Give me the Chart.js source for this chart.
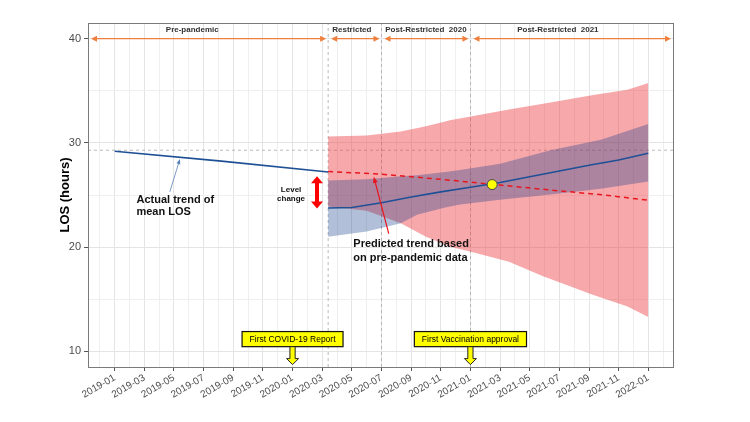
<!DOCTYPE html>
<html>
<head>
<meta charset="utf-8">
<script src="https://cdn.jsdelivr.net/npm/chart.js@4.4.1/dist/chart.umd.min.js"></script>
<style>
  html, body { margin: 0; padding: 0; background: #fff; }
  #wrap { width: 750px; height: 422px; }
</style>
</head>
<body>
<div id="wrap"><canvas id="losChart" width="750" height="422"></canvas></div>
<script>
// months since 2019-01-01 (day part as fraction of a month)
function toMonth(s) {
    const p = s.split('-').map(Number);
    return (p[0] - 2019) * 12 + (p[1] - 1) + ((p[2] || 1) - 1) / 30;
}

// ---- data ----
const preDates = ['2019-01', '2019-08-07', '2020-03-13'];
const preLOS = [29.2, 28.25, 27.2];

const postDates = ['2020-03-13', '2020-05', '2020-07', '2020-09', '2020-11', '2021-01',
                   '2021-03', '2021-05', '2021-07', '2021-09', '2021-11', '2022-01'];
const postLOS = [23.75, 23.8, 24.25, 24.8, 25.3, 25.75, 26.2, 26.75, 27.3, 27.85, 28.35, 29.0];

const predDates = ['2020-03-13', '2020-07', '2020-11', '2021-03', '2021-07', '2021-10', '2022-01'];
const predLOS = [27.25, 27.0, 26.5, 25.95, 25.4, 25.0, 24.5];

const blueDates = ['2020-03-13', '2020-06', '2020-08-10', '2020-09-13', '2020-11-10', '2020-12-10',
                   '2021-03', '2021-06-13', '2021-09-25', '2022-01'];
const blueUpper = [26.4, 26.5, 26.8, 26.9, 27.2, 27.4, 28.0, 29.3, 30.3, 31.8];
const blueLower = [21.0, 21.5, 22.3, 23.1, 23.8, 24.1, 24.55, 25.05, 25.6, 26.3];

const redDates = ['2020-03-13', '2020-06', '2020-08-10', '2020-10', '2020-11-22', '2021-01-10',
                  '2021-03-19', '2021-05-28', '2021-09-10', '2021-11-19', '2022-01'];
const redUpper = [30.6, 30.7, 31.1, 31.6, 32.2, 32.6, 33.2, 33.75, 34.6, 35.1, 35.75];
const redLower = [23.9, 23.5, 22.3, 21.0, 20.0, 19.45, 18.6, 17.2, 15.4, 14.3, 13.3];

const crossDate = ['2021-02-15'];
const crossLOS = [26.0];

const refLOS = 29.3;
const phaseBreaks = ['2020-03-13', '2020-07', '2021-01'];
const phaseNames = ['Pre-pandemic', 'Restricted', 'Post-Restricted  2020', 'Post-Restricted  2021'];
const phaseLabelAt = ['2019-06-08', '2020-05', '2020-10', '2021-06-28'];

const eventNames = ['First COVID-19 Report', 'First Vaccination approval'];
const eventDates = ['2020-01', '2021-01'];

const xTickLabels = ['2019-01', '2019-03', '2019-05', '2019-07', '2019-09', '2019-11',
                     '2020-01', '2020-03', '2020-05', '2020-07', '2020-09', '2020-11',
                     '2021-01', '2021-03', '2021-05', '2021-07', '2021-09', '2021-11', '2022-01'];
const yTickLabels = [10, 20, 30, 40];
const yMinorTicks = [15, 25, 35];

const xMin = toMonth('2018-11-07');
const xMax = toMonth('2022-02-21');
const yMin = 8.5, yMax = 41.5;

const xMajor = xTickLabels.map(toMonth);
const xGrid = [];
for (let m = -1; m <= 37; m++) xGrid.push(m);

const pts = (dates, vals) => dates.map((d, i) => ({ x: toMonth(d), y: vals[i] }));
const vline = d => [{ x: toMonth(d), y: yMin }, { x: toMonth(d), y: yMax }];

const FONT = "'Liberation Sans', Arial, sans-serif";
Chart.defaults.font.family = FONT;

function head(ctx, x, y, ang, len, half) {
    ctx.save();
    ctx.translate(x, y);
    ctx.rotate(ang);
    ctx.beginPath();
    ctx.moveTo(0, 0);
    ctx.lineTo(-len, -half);
    ctx.lineTo(-len, half);
    ctx.closePath();
    ctx.fill();
    ctx.restore();
}

function arrow(ctx, x1, y1, x2, y2, color, lw, len, half, both) {
    const ang = Math.atan2(y2 - y1, x2 - x1);
    ctx.save();
    ctx.strokeStyle = color;
    ctx.fillStyle = color;
    ctx.lineWidth = lw;
    ctx.beginPath();
    ctx.moveTo(x1 + (both ? Math.cos(ang) * len * 0.8 : 0), y1 + (both ? Math.sin(ang) * len * 0.8 : 0));
    ctx.lineTo(x2 - Math.cos(ang) * len * 0.8, y2 - Math.sin(ang) * len * 0.8);
    ctx.stroke();
    head(ctx, x2, y2, ang, len, half);
    if (both) head(ctx, x1, y1, ang + Math.PI, len, half);
    ctx.restore();
}

// annotations, period arrows and panel border
const annotations = {
    id: 'annotations',
    afterDatasetsDraw(chart) {
        const ctx = chart.ctx;
        const xs = chart.scales.x, ys = chart.scales.y;
        const px = m => xs.getPixelForValue(m);
        const py = v => ys.getPixelForValue(v);
        const area = chart.chartArea;

        // period arrows along the top
        const edges = [xMin].concat(phaseBreaks.map(toMonth), [xMax]);
        for (let i = 0; i < edges.length - 1; i++) {
            arrow(ctx, px(edges[i]) + 3, py(40), px(edges[i + 1]) - 2, py(40), '#ee7f3c', 1.4, 6, 3, true);
        }
        ctx.save();
        ctx.fillStyle = '#333';
        ctx.font = 'bold 8px ' + FONT;
        ctx.textAlign = 'center';
        ctx.textBaseline = 'middle';
        phaseNames.forEach((n, i) => ctx.fillText(n, px(toMonth(phaseLabelAt[i])), py(40.85)));
        ctx.restore();

        // level change
        arrow(ctx, px(13.65), py(26.8), px(13.65), py(23.7), '#ff0000', 4, 7, 6, true);
        ctx.save();
        ctx.fillStyle = '#111';
        ctx.font = 'bold 8px ' + FONT;
        ctx.textAlign = 'center';
        ctx.textBaseline = 'middle';
        ctx.fillText('Level', px(11.9), py(25.5));
        ctx.fillText('change', px(11.9), py(24.6));

        // text callouts
        ctx.font = 'bold 11px ' + FONT;
        ctx.textAlign = 'left';
        ctx.fillText('Actual trend of', px(1.47), py(24.5));
        ctx.fillText('mean LOS', px(1.47), py(23.35));
        ctx.fillText('Predicted trend based', px(16.1), py(20.3));
        ctx.fillText('on pre-pandemic data', px(16.1), py(18.95));
        ctx.restore();
        arrow(ctx, px(3.72), py(25.3), px(4.4), py(28.45), '#5b82b8', 0.8, 5, 2, false);
        arrow(ctx, px(18.49), py(21.3), px(17.48), py(26.75), '#e8141c', 1.2, 6, 2.5, false);

        // event boxes with yellow block arrows
        eventNames.forEach((n, i) => {
            const cx = px(toMonth(eventDates[i]));
            const top = py(11.9), bot = py(10.45), tip = py(8.73);
            ctx.save();
            ctx.font = '8.5px ' + FONT;
            const w = ctx.measureText(n).width + 15;
            ctx.fillStyle = '#ffff00';
            ctx.strokeStyle = '#111';
            ctx.lineWidth = 1.2;
            ctx.fillRect(cx - w / 2, top, w, bot - top);
            ctx.strokeRect(cx - w / 2, top, w, bot - top);
            ctx.fillStyle = '#000';
            ctx.textAlign = 'center';
            ctx.textBaseline = 'middle';
            ctx.fillText(n, cx, (top + bot) / 2 + 0.5);
            // block arrow
            const sh = 2.6, hh = 6, hl = 6;
            ctx.beginPath();
            ctx.moveTo(cx - sh, bot);
            ctx.lineTo(cx + sh, bot);
            ctx.lineTo(cx + sh, tip - hl);
            ctx.lineTo(cx + hh, tip - hl);
            ctx.lineTo(cx, tip);
            ctx.lineTo(cx - hh, tip - hl);
            ctx.lineTo(cx - sh, tip - hl);
            ctx.closePath();
            ctx.fillStyle = '#ffff00';
            ctx.fill();
            ctx.lineWidth = 1;
            ctx.strokeStyle = '#222';
            ctx.stroke();
            ctx.restore();
        });

        // panel border
        ctx.save();
        ctx.strokeStyle = '#7a7a7a';
        ctx.lineWidth = 1;
        ctx.strokeRect(Math.round(area.left) + 0.5, Math.round(area.top) + 0.5,
            Math.round(area.right - area.left), Math.round(area.bottom - area.top));
        ctx.restore();
    }
};

const ctx = document.getElementById('losChart').getContext('2d');
new Chart(ctx, {
    type: 'line',
    data: {
        datasets: [
            {
                label: 'Crossing',
                data: pts(crossDate, crossLOS),
                showLine: false,
                pointRadius: 5,
                pointBackgroundColor: '#ffff00',
                pointBorderColor: '#444',
                pointBorderWidth: 1
            },
            {
                label: 'Actual pre',
                data: pts(preDates, preLOS),
                borderColor: '#1f5096',
                borderWidth: 1.6,
                pointRadius: 0,
                fill: false
            },
            {
                label: 'Actual post',
                data: pts(postDates, postLOS),
                borderColor: '#1f5096',
                borderWidth: 1.6,
                pointRadius: 0,
                fill: false
            },
            {
                label: 'Predicted',
                data: pts(predDates, predLOS),
                borderColor: '#e8171f',
                borderWidth: 1.5,
                borderDash: [5, 4],
                pointRadius: 0,
                fill: false
            },
            {
                label: 'Actual CI upper',
                data: pts(blueDates, blueUpper),
                borderWidth: 0,
                pointRadius: 0,
                fill: false
            },
            {
                label: 'Actual CI lower',
                data: pts(blueDates, blueLower),
                borderWidth: 0,
                pointRadius: 0,
                backgroundColor: 'rgba(20, 62, 140, 0.33)',
                fill: '-1'
            },
            {
                label: 'Predicted PI upper',
                data: pts(redDates, redUpper),
                borderWidth: 0,
                pointRadius: 0,
                fill: false
            },
            {
                label: 'Predicted PI lower',
                data: pts(redDates, redLower),
                borderWidth: 0,
                pointRadius: 0,
                backgroundColor: 'rgba(237, 62, 68, 0.45)',
                fill: '-1'
            },
            {
                label: 'Reference',
                data: [{ x: xMin, y: refLOS }, { x: xMax, y: refLOS }],
                borderColor: '#a8a8a8',
                borderWidth: 0.8,
                borderDash: [3, 3],
                pointRadius: 0
            },
            ...phaseBreaks.map(d => ({
                label: 'Break ' + d,
                data: vline(d),
                borderColor: '#a8a8a8',
                borderWidth: 0.8,
                borderDash: [3, 3],
                pointRadius: 0
            }))
        ]
    },
    options: {
        responsive: false,
        animation: false,
        layout: { padding: { top: 23, right: 77, left: 0, bottom: 0 } },
        plugins: {
            legend: { display: false },
            tooltip: { enabled: false }
        },
        scales: {
            x: {
                type: 'linear',
                min: xMin,
                max: xMax,
                afterBuildTicks: s => { s.ticks = xGrid.map(v => ({ value: v })); },
                afterFit: s => { s.height = 55; },
                border: { display: false },
                grid: {
                    color: c => xMajor.includes(c.tick.value) ? '#e4e4e4' : '#efefef',
                    tickColor: c => xMajor.includes(c.tick.value) ? '#555' : 'rgba(0,0,0,0)',
                    tickLength: 4,
                    lineWidth: 1
                },
                ticks: {
                    autoSkip: false,
                    minRotation: 30,
                    maxRotation: 30,
                    padding: 1,
                    color: '#4d4d4d',
                    font: { size: 10 },
                    callback: v => {
                        const i = xMajor.indexOf(v);
                        return i >= 0 ? xTickLabels[i] : '';
                    }
                }
            },
            y: {
                min: yMin,
                max: yMax,
                afterBuildTicks: s => {
                    s.ticks = yTickLabels.concat(yMinorTicks).sort((a, b) => a - b).map(v => ({ value: v }));
                },
                afterFit: s => { s.width = 88; },
                border: { display: false },
                grid: {
                    color: c => yTickLabels.includes(c.tick.value) ? '#e4e4e4' : '#efefef',
                    tickColor: c => yTickLabels.includes(c.tick.value) ? '#555' : 'rgba(0,0,0,0)',
                    tickLength: 4,
                    lineWidth: 1
                },
                ticks: {
                    padding: 3,
                    color: '#4d4d4d',
                    font: { size: 11 },
                    callback: v => yTickLabels.includes(v) ? String(v) : ''
                },
                title: {
                    display: true,
                    text: 'LOS (hours)',
                    color: '#000',
                    font: { size: 13, weight: 'bold' },
                    padding: { top: 58, bottom: 0 }
                }
            }
        }
    },
    plugins: [annotations]
});
</script>
</body>
</html>
